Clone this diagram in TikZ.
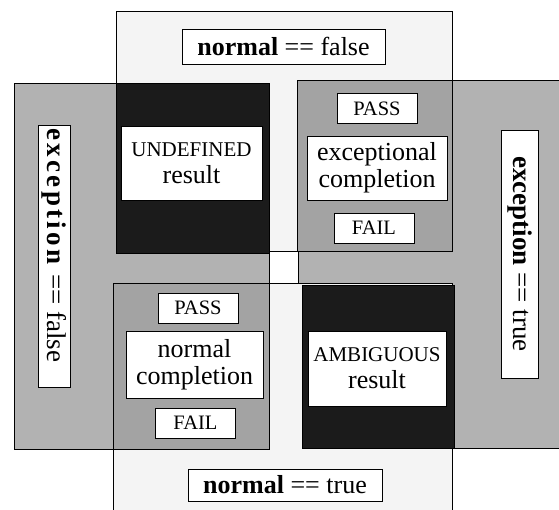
\documentclass[tikz,border=0pt]{standalone}
\usepackage{xcolor}
\usepackage{fontspec}
\setmainfont{Liberation Serif}
\usepackage{tikz}

\definecolor{lightfield}{HTML}{F4F4F4}
\definecolor{midfield}{HTML}{B2B2B2}
\definecolor{darkfield}{HTML}{A3A3A3}
\definecolor{blackfield}{HTML}{1B1B1B}

\tikzset{
    region/.style={draw=black, line width=1pt},
    tagbox/.style={draw=black, fill=white, line width=1pt, inner sep=0pt, align=center,
        font=\fontsize{26}{27}\selectfont},
    capsbox/.style={tagbox, font=\fontsize{20.5}{22}\selectfont, minimum width=80, minimum height=30},
}

\begin{document}
\begin{tikzpicture}[x=1pt,y=1pt,yscale=-1,xscale=1]
    \useasboundingbox (0,0) rectangle (559,509);
    \clip (0,0) rectangle (559,509);

        % normal == false , exception == true , normal == true , exception == false
        \draw [region, fill=lightfield] (116,11) rectangle (452,251);
        \draw [region, fill=midfield] (298,80) rectangle (580,448);
        \draw [region, fill=lightfield] (113,283) rectangle (452,530);
        \draw [region, fill=midfield] (14,83) rectangle (269,449);
        % the four overlaps
        \draw [region, fill=blackfield] (116,83) rectangle (269,253);
        \draw [region, fill=darkfield] (297,80) rectangle (452,251);
        \draw [region, fill=darkfield] (113,283) rectangle (269,449);
        \draw [region, fill=blackfield] (302,285) rectangle (454,448);

        \node [tagbox, minimum width=203, minimum height=35] (nfalse) at (283.5,46.5) {\textbf{normal} == false};
        \node [tagbox, minimum width=194, minimum height=32] (ntrue) at (285,485) {\textbf{normal} == true};
        \node [tagbox, rotate=-90, minimum width=262, minimum height=32, font=\fontsize{27}{28}\selectfont] (efalse) at (54,256)
            {{\addfontfeature{LetterSpace=12}\textbf{exception}} == false\hspace{21pt}};
        \node [tagbox, rotate=-90, minimum width=248, minimum height=37, font=\fontsize{27}{28}\selectfont] (etrue) at (519.5,254)
            {\textbf{exception} == true};

        \node [tagbox, minimum width=141, minimum height=74] (undef) at (191.5,163) {{\fontsize{21}{28}\selectfont UNDEFINED}\\result};
        \node [tagbox, minimum width=138, minimum height=75] (ambig) at (377,368.5) {{\fontsize{21}{29}\selectfont AMBIGUOUS}\\result};

        \node [capsbox] (passexc) at (377,108.5) {PASS};
        \node [tagbox, minimum width=140, minimum height=64] (exccompl) at (377,168) {exceptional\\completion};
        \node [capsbox] (failexc) at (374,228) {FAIL};

        \node [capsbox] (passnorm) at (198,308) {PASS};
        \node [tagbox, minimum width=137, minimum height=67] (normcompl) at (194.5,364.5) {normal\\completion};
        \node [capsbox] (failnorm) at (195.5,423) {FAIL};

\end{tikzpicture}
\end{document}
